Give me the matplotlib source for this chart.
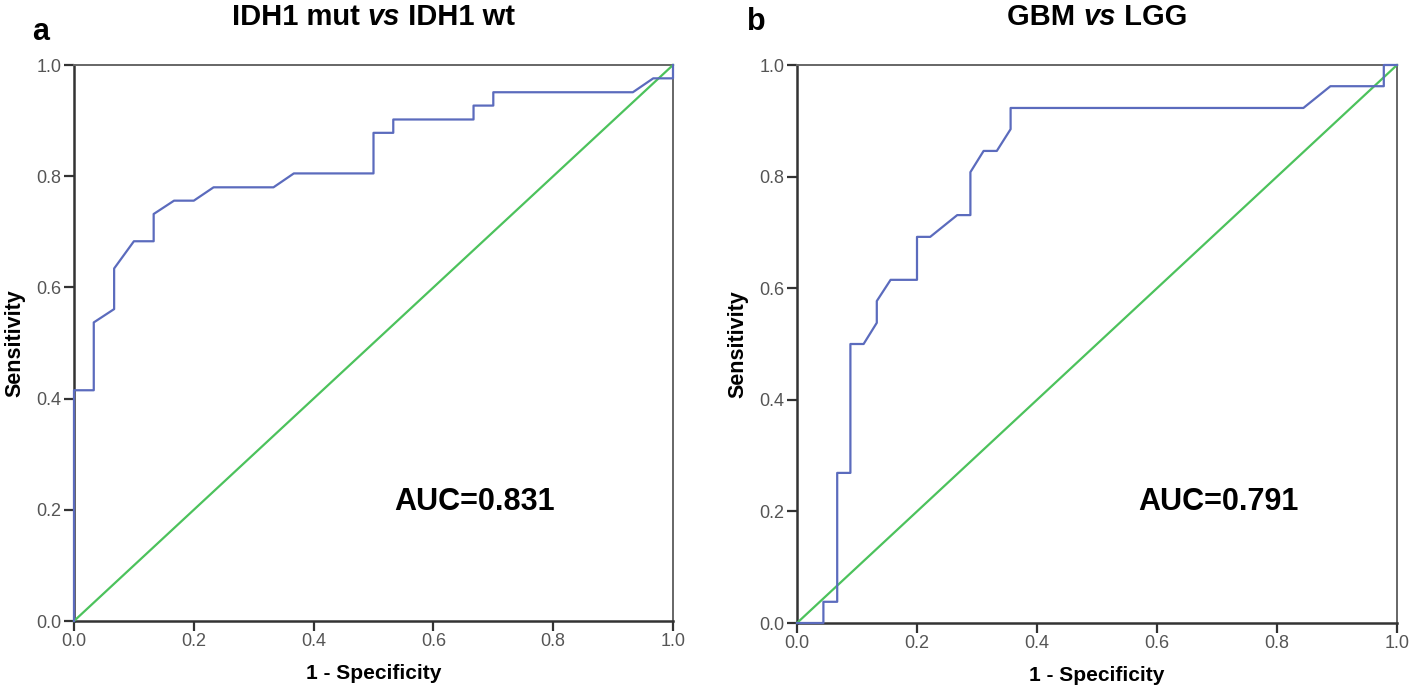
import matplotlib
matplotlib.use("Agg")
import matplotlib.pyplot as plt
from matplotlib import font_manager as fm

# ---- data ----
a_fpr = [0.0, 0.0, 0.033, 0.033, 0.067, 0.067, 0.1, 0.133, 0.133, 0.167, 0.2, 0.233,
         0.333, 0.367, 0.5, 0.5, 0.533, 0.533, 0.667, 0.667, 0.7, 0.7, 0.933, 0.967, 1.0, 1.0]
a_tpr = [0.0, 0.415, 0.415, 0.537, 0.561, 0.634, 0.683, 0.683, 0.732, 0.756, 0.756, 0.780,
         0.780, 0.805, 0.805, 0.878, 0.878, 0.902, 0.902, 0.927, 0.927, 0.951, 0.951, 0.976, 0.976, 1.0]

b_fpr = [0.0, 0.044, 0.044, 0.067, 0.067, 0.089, 0.089, 0.111, 0.133, 0.133, 0.156, 0.2,
         0.2, 0.222, 0.267, 0.289, 0.289, 0.311, 0.333, 0.356, 0.356, 0.844, 0.889, 0.978, 0.978, 1.0]
b_tpr = [0.0, 0.0, 0.038, 0.038, 0.269, 0.269, 0.5, 0.5, 0.538, 0.577, 0.615, 0.615,
         0.692, 0.692, 0.731, 0.731, 0.808, 0.846, 0.846, 0.885, 0.923, 0.923, 0.962, 0.962, 1.0, 1.0]

ref_line = [0.0, 1.0]
ticks = [0.0, 0.2, 0.4, 0.6, 0.8, 1.0]
tick_labels = ["0.0", "0.2", "0.4", "0.6", "0.8", "1.0"]

titles = [("IDH1 mut ", "vs", " IDH1 wt"), ("GBM ", "vs", " LGG")]
panel_letters = ["a", "b"]
auc_texts = ["AUC=0.831", "AUC=0.791"]

plt.rcParams['font.family'] = ['Liberation Sans', 'DejaVu Sans']

installed = {f.name for f in fm.fontManager.ttflist}
title_family = ['Liberation Sans Narrow', 'Liberation Sans'] if 'Liberation Sans Narrow' in installed \
    else ['Liberation Sans']
title_size = 24 if 'Liberation Sans Narrow' in installed else 21

W, H = 1418, 693
fig = plt.figure(figsize=(W / 100, H / 100), dpi=100)
renderer = fig.canvas.get_renderer()

boxes = [(74, 65, 673, 621), (797, 65, 1397, 623)]  # left, top, right, bottom in px
curves = [(a_fpr, a_tpr), (b_fpr, b_tpr)]
auc_pos = [(0.669, 0.214), (0.703, 0.216)]
letter_px = [(32, 40), (747, 30)]

blue = '#5b6bbd'
green = '#4cc25c'

for i in range(2):
    l, t, r, b = boxes[i]
    ax = fig.add_axes([l / W, 1 - b / H, (r - l) / W, (b - t) / H])
    ax.set_xlim(0, 1)
    ax.set_ylim(0, 1)
    fpr, tpr = curves[i]
    ax.plot(ref_line, ref_line, color=green, lw=1.6, clip_on=False, zorder=3)
    ax.plot(fpr, tpr, color=blue, lw=1.6, clip_on=False, zorder=4)

    ax.set_xticks(ticks)
    ax.set_xticklabels(tick_labels)
    ax.set_yticks(ticks)
    ax.set_yticklabels(tick_labels)
    ax.tick_params(direction='out', length=7, width=1.6, color='#333333',
                   labelsize=13, labelcolor='#555555', pad=2)
    for s in ['left', 'bottom']:
        ax.spines[s].set_color('#333333')
        ax.spines[s].set_linewidth(1.8)
    for s in ['top', 'right']:
        ax.spines[s].set_color('#666666')
        ax.spines[s].set_linewidth(1.4)

    ax.set_xlabel("1 - Specificity", fontsize=15, fontweight='bold', labelpad=10)
    ax.set_ylabel("Sensitivity", fontsize=15.5, fontweight='bold', labelpad=8)

    ax.text(auc_pos[i][0], auc_pos[i][1], auc_texts[i], fontsize=22, fontweight='bold',
            ha='center', va='center', transform=ax.transAxes)

    # title built from three pieces so that "vs" is bold italic
    p1, p2, p3 = titles[i]
    pieces = [(p1, 'normal'), (p2, 'italic'), (p3, 'normal')]
    ty = 1 - 25 / H
    texts = []
    widths = []
    for s, st in pieces:
        tt = fig.text(0, ty, s, fontsize=title_size, fontweight='bold', fontstyle=st,
                      family=title_family, ha='left', va='baseline')
        widths.append(tt.get_window_extent(renderer).width)
        texts.append(tt)
    total = sum(widths)
    x0 = (l + r) / 2 - total / 2
    for tt, w in zip(texts, widths):
        tt.set_x(x0 / W)
        x0 += w

    lx, ly = letter_px[i]
    fig.text(lx / W, 1 - ly / H, panel_letters[i], fontsize=22, fontweight='bold',
             family=title_family, ha='left', va='baseline')

fig.savefig("out.png", dpi=100)
